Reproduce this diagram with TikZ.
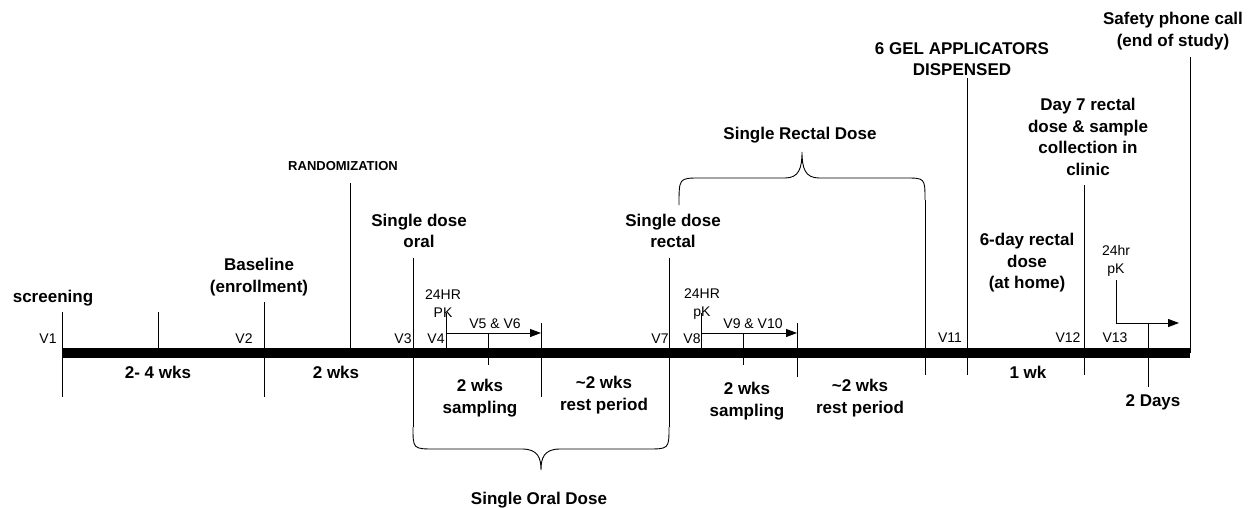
\documentclass[tikz,border=0pt]{standalone}
\usepackage{fontspec}
\setmainfont{Liberation Sans}
\usepackage{tikz}
\usetikzlibrary{arrows.meta}
\pgfdeclarelayer{edgelayer}
\pgfdeclarelayer{nodelayer}
\pgfsetlayers{edgelayer,nodelayer,main}
\tikzstyle{edge}=[draw=black, line width=0.9pt]
\tikzstyle{bar}=[draw=black, line width=10pt]
\tikzstyle{arrowedge}=[draw=black, line width=0.9pt, -{Triangle[length=11pt,width=8pt]}]
\tikzstyle{point}=[coordinate]
\tikzstyle{bigtext}=[inner sep=0pt, align=center, font=\fontsize{17}{21.5}\selectfont\bfseries]
\tikzstyle{captext}=[inner sep=0pt, align=center, font=\fontsize{13}{15}\selectfont\bfseries]
\tikzstyle{smalltext}=[inner sep=0pt, align=center, font=\fontsize{14}{18}\selectfont]

\begin{document}
\begin{tikzpicture}[x=1pt, y=-1pt]
				\useasboundingbox (0, 0) rectangle (1255, 508);
				\begin{pgfonlayer}{nodelayer}
					\node [style=point] (0) at (62, 353) {};
					\node [style=point] (1) at (1190, 353) {};
					\node [style=point] (2) at (62, 312) {};
					\node [style=point] (3) at (62, 397) {};
					\node [style=point] (4) at (158, 312) {};
					\node [style=point] (5) at (158, 353) {};
					\node [style=point] (6) at (264, 302) {};
					\node [style=point] (7) at (264, 397) {};
					\node [style=point] (8) at (350, 183) {};
					\node [style=point] (9) at (350, 353) {};
					\node [style=point] (10) at (413, 258) {};
					\node [style=point] (11) at (413, 427) {};
					\node [style=point] (12) at (446, 313) {};
					\node [style=point] (13) at (446, 353) {};
					\node [style=point] (14) at (446, 333) {};
					\node [style=point] (15) at (541, 333) {};
					\node [style=point] (16) at (541, 323) {};
					\node [style=point] (17) at (541, 397) {};
					\node [style=point] (18) at (488, 333) {};
					\node [style=point] (19) at (488, 365) {};
					\node [style=point] (20) at (669, 258) {};
					\node [style=point] (21) at (669, 427) {};
					\node [style=point] (22) at (701, 313) {};
					\node [style=point] (23) at (701, 353) {};
					\node [style=point] (24) at (701, 333) {};
					\node [style=point] (25) at (797, 333) {};
					\node [style=point] (26) at (797, 323) {};
					\node [style=point] (27) at (797, 377) {};
					\node [style=point] (28) at (743, 333) {};
					\node [style=point] (29) at (743, 365) {};
					\node [style=point] (30) at (925, 200) {};
					\node [style=point] (31) at (925, 375) {};
					\node [style=point] (32) at (967, 78) {};
					\node [style=point] (33) at (967, 375) {};
					\node [style=point] (34) at (1084, 185) {};
					\node [style=point] (35) at (1084, 375) {};
					\node [style=point] (36) at (1116, 280) {};
					\node [style=point] (37) at (1116, 323) {};
					\node [style=point] (38) at (1179, 323) {};
					\node [style=point] (39) at (1148, 323) {};
					\node [style=point] (40) at (1148, 387) {};
					\node [style=point] (41) at (1190, 57) {};
					\node [style=point] (42) at (541, 470) {};
					\node [style=point] (43) at (679, 205) {};
					\node [style=point] (44) at (802, 152) {};

					% labels above the line
					\node [style=bigtext] (50) at (53, 298) {screening};
					\node [style=bigtext] (51) at (259, 277) {Baseline\\(enrollment)};
					\node [style=captext] (52) at (343, 166) {RANDOMIZATION};
					\node [style=bigtext] (53) at (419, 231) {Single dose\\oral};
					\node [style=bigtext] (54) at (673, 231) {Single dose\\rectal};
					\node [style=bigtext] (55) at (800, 135) {Single Rectal Dose};
					\node [style=bigtext] (56) at (962, 59) {6 GEL APPLICATORS\\DISPENSED};
					\node [style=bigtext] (57) at (1173, 31) {Safety phone call\\(end of study)};
					\node [style=bigtext] (58) at (1088, 137) {Day 7 rectal\\dose \& sample\\collection in\\clinic};
					\node [style=bigtext] (59) at (1027, 263) {6-day rectal\\dose\\(at home)};
					\node [style=smalltext] (60) at (443, 304) {24HR\\PK};
					\node [style=smalltext] (61) at (702, 304) {24HR\\pK};
					\node [style=smalltext] (62) at (1116, 261) {24hr\\pK};
					\node [style=smalltext] (63) at (495, 324) {V5 \& V6};
					\node [style=smalltext] (64) at (753, 324) {V9 \& V10};

					% visit numbers
					\node [style=smalltext] (70) at (48, 339) {V1};
					\node [style=smalltext] (71) at (244, 339) {V2};
					\node [style=smalltext] (72) at (403, 339) {V3};
					\node [style=smalltext] (73) at (436, 339) {V4};
					\node [style=smalltext] (74) at (660, 339) {V7};
					\node [style=smalltext] (75) at (692, 339) {V8};
					\node [style=smalltext] (76) at (950, 338) {V11};
					\node [style=smalltext] (77) at (1068, 338) {V12};
					\node [style=smalltext] (78) at (1115, 338) {V13};

					% labels below the line
					\node [style=bigtext] (80) at (158, 372) {2- 4 wks};
					\node [style=bigtext] (81) at (336, 372) {2 wks};
					\node [style=bigtext] (82) at (480, 398) {2 wks\\sampling};
					\node [style=bigtext] (83) at (604, 395) {\textasciitilde2 wks\\rest period};
					\node [style=bigtext] (84) at (747, 401) {2 wks\\sampling};
					\node [style=bigtext] (85) at (860, 398) {\textasciitilde2 wks\\rest period};
					\node [style=bigtext] (86) at (1028, 372) {1 wk};
					\node [style=bigtext] (87) at (1153, 402) {2 Days};
					\node [style=bigtext] (88) at (539, 500) {Single Oral Dose};
				\end{pgfonlayer}
				\begin{pgfonlayer}{edgelayer}
					\draw [style=bar] (0) to (1);
					\draw [style=edge] (2) to (3);
					\draw [style=edge] (4) to (5);
					\draw [style=edge] (6) to (7);
					\draw [style=edge] (8) to (9);
					\draw [style=edge] (10) to (11);
					\draw [style=edge] (12) to (13);
					\draw [style=arrowedge] (14) to (15);
					\draw [style=edge] (16) to (17);
					\draw [style=edge] (18) to (19);
					\draw [style=edge] (20) to (21);
					\draw [style=edge] (22) to (23);
					\draw [style=arrowedge] (24) to (25);
					\draw [style=edge] (26) to (27);
					\draw [style=edge] (28) to (29);
					\draw [style=edge] (30) to (31);
					\draw [style=edge] (32) to (33);
					\draw [style=edge] (34) to (35);
					\draw [style=arrowedge] (36) -- (37) -- (38);
					\draw [style=edge] (39) to (40);
					\draw [style=edge] (41) to (1);
					% braces
					\draw [style=edge] (11) .. controls (413, 449) .. (435, 449) -- (522, 449)
						.. controls (538, 449) and (541, 458) .. (42)
						.. controls (541, 458) and (544, 449) .. (560, 449) -- (647, 449)
						.. controls (669, 449) .. (21);
					\draw [style=edge] (43) .. controls (679, 178) .. (700, 178) -- (785, 178)
						.. controls (799, 178) and (802, 168) .. (44)
						.. controls (802, 168) and (805, 178) .. (819, 178) -- (905, 178)
						.. controls (925, 178) .. (30);
				\end{pgfonlayer}
			\end{tikzpicture}
\end{document}
